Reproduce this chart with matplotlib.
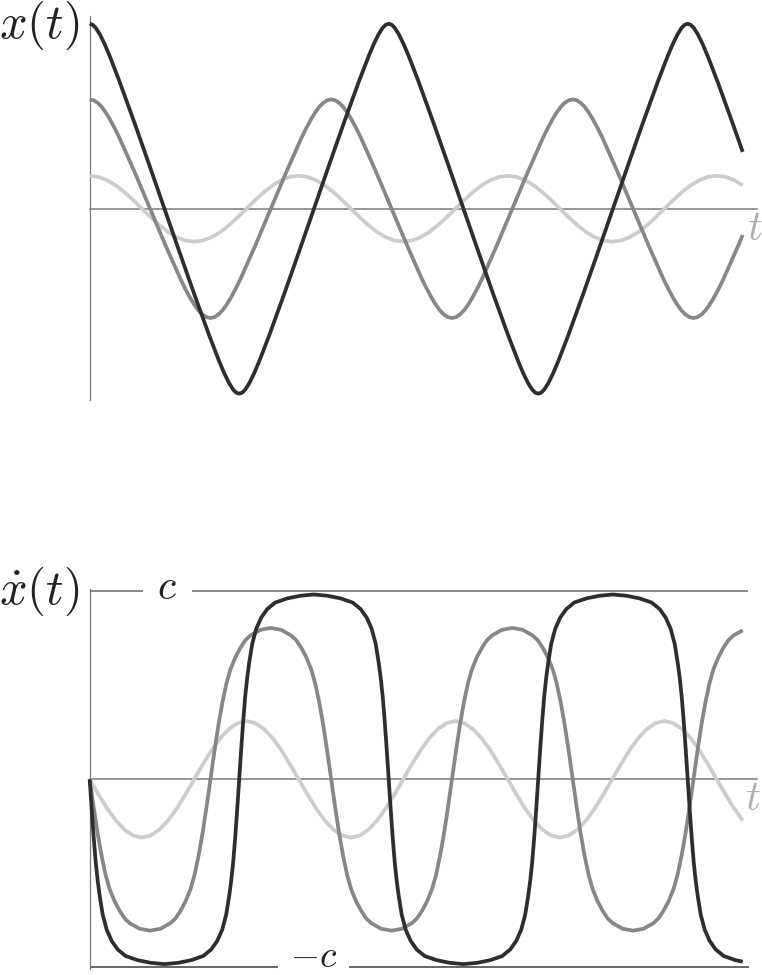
import matplotlib
matplotlib.use("Agg")
import matplotlib.pyplot as plt

plt.rcParams['mathtext.fontset'] = 'cm'

# ---- data -------------------------------------------------------------
# t is in arbitrary time units (one unit ~ one pixel), x in units of the
# largest amplitude, velocity in units of c

# largest amplitude (dark curve)
t_x_dark = [0, 3, 6, 10, 15, 20, 30, 45, 60,
            74.75, 89.5, 104.5, 119.5, 129.5, 134.5, 139.5, 143.5, 146.5,
            149.5, 152.5, 155.5, 159.5, 164.5, 169.5, 179.5, 194.5, 209.5,
            224.25, 239, 254, 269, 279, 284, 289, 293, 296,
            299, 302, 305, 309, 314, 319, 329, 344, 359,
            373.75, 388.5, 403.5, 418.5, 428.5, 433.5, 438.5, 442.5, 445.5,
            448.5, 451.5, 454.5, 458.5, 463.5, 468.5, 478.5, 493.5, 508.5,
            523.25, 538, 553, 568, 578, 583, 588, 592, 595,
            598, 601, 604, 608, 613, 618, 628, 643, 653]
x_dark = [1.0, .994, .978, .944, .889, .825, .685, .461, .230,
          0, -.230, -.461, -.685, -.825, -.889, -.944, -.978, -.994,
          -1.0, -.994, -.978, -.944, -.889, -.825, -.685, -.461, -.230,
          0, .230, .461, .685, .825, .889, .944, .978, .994,
          1.0, .994, .978, .944, .889, .825, .685, .461, .230,
          0, -.230, -.461, -.685, -.825, -.889, -.944, -.978, -.994,
          -1.0, -.994, -.978, -.944, -.889, -.825, -.685, -.461, -.230,
          0, .230, .461, .685, .825, .889, .944, .978, .994,
          1.0, .994, .978, .944, .889, .825, .685, .461, .307]

# middle amplitude (grey curve)
t_x_mid = [0, 4, 8, 12, 16, 20, 25, 30, 45, 60.375, 75.75, 90.75, 95.75, 100.75, 104.75, 108.75, 112.75, 116.75,
           120.75, 124.75, 128.75, 132.75, 136.75, 140.75, 145.75, 150.75, 165.75, 181.125, 196.5, 211.5, 216.5, 221.5, 225.5, 229.5, 233.5, 237.5,
           241.5, 245.5, 249.5, 253.5, 257.5, 261.5, 266.5, 271.5, 286.5, 301.875, 317.25, 332.25, 337.25, 342.25, 346.25, 350.25, 354.25, 358.25,
           362.25, 366.25, 370.25, 374.25, 378.25, 382.25, 387.25, 392.25, 407.25, 422.625, 438, 453, 458, 463, 467, 471, 475, 479,
           483, 487, 491, 495, 499, 503, 508, 513, 528, 543.375, 558.75, 573.75, 578.75, 583.75, 587.75, 591.75, 595.75, 599.75,
           603.75, 607.75, 611.75, 615.75, 619.75, 623.75, 628.75, 633.75, 648.75, 653]
x_mid = [.591, .586, .572, .550, .520, .485, .435, .380, .197, 0, -.197, -.380, -.435, -.485, -.520, -.550, -.572, -.586,
         -.591, -.586, -.572, -.550, -.520, -.485, -.435, -.380, -.197, 0, .197, .380, .435, .485, .520, .550, .572, .586,
         .591, .586, .572, .550, .520, .485, .435, .380, .197, 0, -.197, -.380, -.435, -.485, -.520, -.550, -.572, -.586,
         -.591, -.586, -.572, -.550, -.520, -.485, -.435, -.380, -.197, 0, .197, .380, .435, .485, .520, .550, .572, .586,
         .591, .586, .572, .550, .520, .485, .435, .380, .197, 0, -.197, -.380, -.435, -.485, -.520, -.550, -.572, -.586,
         -.591, -.586, -.572, -.550, -.520, -.485, -.435, -.380, -.197, -.142]

# small amplitude (light curve), shared time grid for x and velocity
t_light = [0, 8.71, 17.42, 26.13, 34.83, 43.54, 52.25, 60.96, 69.67, 78.38, 87.08, 95.79,
           104.5, 113.21, 121.92, 130.63, 139.33, 148.04, 156.75, 165.46, 174.17, 182.88, 191.58, 200.29,
           209, 217.71, 226.42, 235.13, 243.83, 252.54, 261.25, 269.96, 278.67, 287.38, 296.08, 304.79,
           313.5, 322.21, 330.92, 339.63, 348.33, 357.04, 365.75, 374.46, 383.17, 391.88, 400.58, 409.29,
           418, 426.71, 435.42, 444.13, 452.83, 461.54, 470.25, 478.96, 487.67, 496.38, 505.08, 513.79,
           522.5, 531.21, 539.92, 548.63, 557.33, 566.04, 574.75, 583.46, 592.17, 600.88, 609.58, 618.29,
           627, 635.71, 644.42, 653]
x_light = [.178, .172, .154, .126, .089, .046, 0, -.046, -.089, -.126, -.154, -.172,
           -.178, -.172, -.154, -.126, -.089, -.046, 0, .046, .089, .126, .154, .172,
           .178, .172, .154, .126, .089, .046, 0, -.046, -.089, -.126, -.154, -.172,
           -.178, -.172, -.154, -.126, -.089, -.046, 0, .046, .089, .126, .154, .172,
           .178, .172, .154, .126, .089, .046, 0, -.046, -.089, -.126, -.154, -.172,
           -.178, -.172, -.154, -.126, -.089, -.046, 0, .046, .089, .126, .154, .172,
           .178, .172, .154, .126]
v_light = [0, -.080, -.155, -.219, -.268, -.299, -.31, -.299, -.268, -.219, -.155, -.080,
           0, .080, .155, .219, .268, .299, .31, .299, .268, .219, .155, .080,
           0, -.080, -.155, -.219, -.268, -.299, -.31, -.299, -.268, -.219, -.155, -.080,
           0, .080, .155, .219, .268, .299, .31, .299, .268, .219, .155, .080,
           0, -.080, -.155, -.219, -.268, -.299, -.31, -.299, -.268, -.219, -.155, -.080,
           0, .080, .155, .219, .268, .299, .31, .299, .268, .219, .155, .080,
           0, -.080, -.155, -.219]

# velocities
t_v_dark = [0, 2, 4, 6, 8, 10, 13, 17, 22, 28, 36, 48, 61, 74.75, 88.5, 101.5, 113.5, 121.5, 127.5, 132.5, 136.5, 139.5, 141.5, 143.5, 145.5, 147.5,
            149.5, 151.5, 153.5, 155.5, 157.5, 159.5, 162.5, 166.5, 171.5, 177.5, 185.5, 197.5, 210.5, 224.25, 238, 251, 263, 271, 277, 282, 286, 289, 291, 293, 295, 297,
            299, 301, 303, 305, 307, 309, 312, 316, 321, 327, 335, 347, 360, 373.75, 387.5, 400.5, 412.5, 420.5, 426.5, 431.5, 435.5, 438.5, 440.5, 442.5, 444.5, 446.5,
            448.5, 450.5, 452.5, 454.5, 456.5, 458.5, 461.5, 465.5, 470.5, 476.5, 484.5, 496.5, 509.5, 523.25, 537, 550, 562, 570, 576, 581, 585, 588, 590, 592, 594, 596,
            598, 600, 602, 604, 606, 608, 611, 615, 620, 626, 634, 646, 653]
v_dark = [0, -.16, -.31, -.44, -.54, -.62, -.72, -.80, -.86, -.905, -.94, -.962, -.976, -.983, -.976, -.962, -.94, -.905, -.86, -.80, -.72, -.62, -.54, -.44, -.31, -.16,
          0, .16, .31, .44, .54, .62, .72, .80, .86, .905, .94, .962, .976, .983, .976, .962, .94, .905, .86, .80, .72, .62, .54, .44, .31, .16,
          0, -.16, -.31, -.44, -.54, -.62, -.72, -.80, -.86, -.905, -.94, -.962, -.976, -.983, -.976, -.962, -.94, -.905, -.86, -.80, -.72, -.62, -.54, -.44, -.31, -.16,
          0, .16, .31, .44, .54, .62, .72, .80, .86, .905, .94, .962, .976, .983, .976, .962, .94, .905, .86, .80, .72, .62, .54, .44, .31, .16,
          0, -.16, -.31, -.44, -.54, -.62, -.72, -.80, -.86, -.905, -.94, -.962, -.97]

t_v_mid = [0, 4, 8, 12, 16, 20, 25, 30, 35, 40, 50, 60.375, 70.75, 80.75, 85.75, 90.75, 95.75, 100.75, 104.75, 108.75, 112.75, 116.75,
           120.75, 124.75, 128.75, 132.75, 136.75, 140.75, 145.75, 150.75, 155.75, 160.75, 170.75, 181.125, 191.5, 201.5, 206.5, 211.5, 216.5, 221.5, 225.5, 229.5, 233.5, 237.5,
           241.5, 245.5, 249.5, 253.5, 257.5, 261.5, 266.5, 271.5, 276.5, 281.5, 291.5, 301.875, 312.25, 322.25, 327.25, 332.25, 337.25, 342.25, 346.25, 350.25, 354.25, 358.25,
           362.25, 366.25, 370.25, 374.25, 378.25, 382.25, 387.25, 392.25, 397.25, 402.25, 412.25, 422.625, 433, 443, 448, 453, 458, 463, 467, 471, 475, 479,
           483, 487, 491, 495, 499, 503, 508, 513, 518, 523, 533, 543.375, 553.75, 563.75, 568.75, 573.75, 578.75, 583.75, 587.75, 591.75, 595.75, 599.75,
           603.75, 607.75, 611.75, 615.75, 619.75, 623.75, 628.75, 633.75, 638.75, 643.75, 653]
v_mid = [0, -.15, -.29, -.41, -.51, -.585, -.65, -.70, -.74, -.765, -.795, -.805, -.795, -.765, -.74, -.70, -.65, -.585, -.51, -.41, -.29, -.15,
         0, .15, .29, .41, .51, .585, .65, .70, .74, .765, .795, .805, .795, .765, .74, .70, .65, .585, .51, .41, .29, .15,
         0, -.15, -.29, -.41, -.51, -.585, -.65, -.70, -.74, -.765, -.795, -.805, -.795, -.765, -.74, -.70, -.65, -.585, -.51, -.41, -.29, -.15,
         0, .15, .29, .41, .51, .585, .65, .70, .74, .765, .795, .805, .795, .765, .74, .70, .65, .585, .51, .41, .29, .15,
         0, -.15, -.29, -.41, -.51, -.585, -.65, -.70, -.74, -.765, -.795, -.805, -.795, -.765, -.74, -.70, -.65, -.585, -.51, -.41, -.29, -.15,
         0, .15, .29, .41, .51, .585, .65, .70, .74, .765, .792]

c_level = 1.0

# ---- styling ------------------------------------------------------------
col_dark = "#2e2e2e"
col_mid = "#878787"
col_light = "#cdcdcd"
col_axis = "#7a7a7a"
lw = 2.7

fig = plt.figure(figsize=(7.62, 9.75), dpi=100)

ax_x = fig.add_axes([89.7 / 762, (975 - 400) / 975, 667.3 / 762, 384 / 975])
ax_v = fig.add_axes([89.7 / 762, (975 - 969.2) / 975, 667.3 / 762, 379.8 / 975])

for ax in (ax_x, ax_v):
    ax.set_xlim(0, 667.3)
    for side in ("top", "right"):
        ax.spines[side].set_visible(False)
    ax.spines["bottom"].set_position(("data", 0))
    ax.spines["bottom"].set_color(col_axis)
    ax.spines["bottom"].set_linewidth(1.1)
    ax.spines["left"].set_color(col_axis)
    ax.spines["left"].set_linewidth(0.9)
    ax.set_xticks([])
    ax.set_yticks([])
    ax.patch.set_alpha(0)

ax_x.set_ylim(-1.034, 1.0416)
ax_v.set_ylim(-1.01, 1.01)

curve_kw = dict(lw=lw, solid_capstyle="butt", solid_joinstyle="round", clip_on=False)

ax_x.plot(t_light, x_light, color=col_light, zorder=3, **curve_kw)
ax_x.plot(t_x_mid, x_mid, color=col_mid, zorder=4, **curve_kw)
ax_x.plot(t_x_dark, x_dark, color=col_dark, zorder=5, **curve_kw)

ax_v.plot(t_light, v_light, color=col_light, zorder=3, **curve_kw)
ax_v.plot(t_v_mid, v_mid, color=col_mid, zorder=4, **curve_kw)
ax_v.plot(t_v_dark, v_dark, color=col_dark, zorder=5, **curve_kw)

# speed of light limits with a gap for the label
ax_v.hlines(c_level, 0, 53.5, color="#74665e", lw=1.1, zorder=2)
ax_v.hlines(c_level, 102, 658.5, color="#74665e", lw=1.1, zorder=2)
ax_v.hlines(-c_level, 0, 188.5, color="#4a3a30", lw=1.1, zorder=2)
ax_v.hlines(-c_level, 259.5, 659.5, color="#4a3a30", lw=1.1, zorder=2)
ax_v.text(77, c_level - 0.043, r"$c$", fontsize=30, color="#222222", ha="center", va="baseline")
ax_v.text(224, -c_level + 0.004, r"$-c$", fontsize=27, color="#222222", ha="center", va="baseline",
          clip_on=False)

# axis labels
ax_x.text(-10, 0.99, r"$x(t)$", fontsize=35, color="#222222", ha="right", va="center", clip_on=False)
ax_v.text(-10, 1.0, r"$\dot{x}(t)$", fontsize=35, color="#222222", ha="right", va="center", clip_on=False)
ax_x.text(665, -0.105, r"$t$", fontsize=30, color="#b0b0b0", ha="center", va="center", clip_on=False)
ax_v.text(663, -0.10, r"$t$", fontsize=30, color="#b0b0b0", ha="center", va="center", clip_on=False)

fig.savefig("out.png", dpi=100)
